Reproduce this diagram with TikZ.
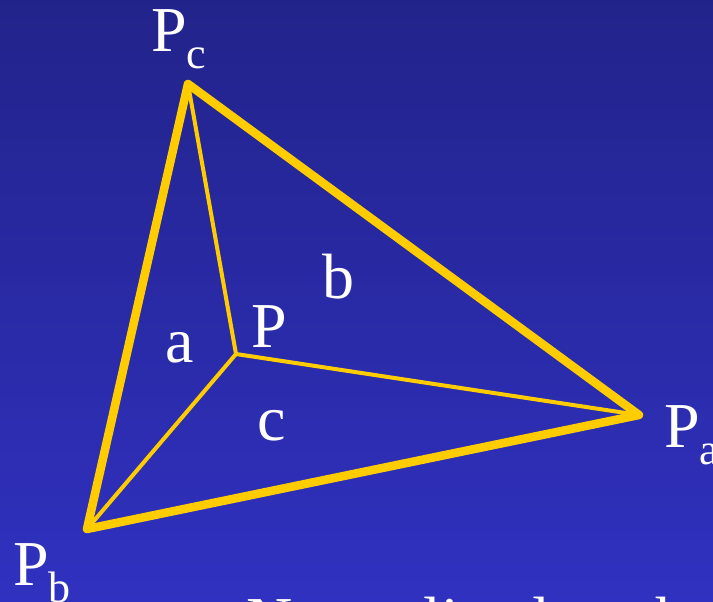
\documentclass[tikz,border=0pt]{standalone}
\usepackage{fontspec}
\setmainfont{Liberation Serif}
\definecolor{bgtop}{RGB}{34,35,138}
\definecolor{bgbot}{RGB}{48,49,192}
\definecolor{edgeyellow}{RGB}{255,204,0}
\tikzset{
  outeredge/.style={draw=edgeyellow, line width=6.4pt, line join=round, line cap=round},
  inneredge/.style={draw=edgeyellow, line width=3pt, line cap=round},
  lbl/.style={text=white, inner sep=0pt, anchor=base west, font=\fontsize{48}{56}\selectfont},
}
\newcommand{\subtxt}[1]{\raisebox{-12.75pt}{\fontsize{33}{38}\selectfont #1}}
\begin{document}
\begin{tikzpicture}[x=0.75pt, y=-0.75pt]
  \useasboundingbox (0,0) rectangle (713,602);
  \clip (0,0) rectangle (713,602);
  \shade[top color=bgtop, bottom color=bgbot] (0,0) rectangle (713,602);
  % vertices
  \coordinate (Pc) at (188,84);
  \coordinate (Pa) at (639,415);
  \coordinate (Pb) at (87,529);
  \coordinate (P) at (236,354);
  % edges
  \draw[inneredge] (P) -- (Pc);
  \draw[inneredge] (P) -- (Pa);
  \draw[inneredge] (P) -- (Pb);
  \draw[outeredge] (Pc) -- (Pa) -- (Pb) -- cycle;
  % labels
  \node[lbl] (lPc) at (151,52) {P\subtxt{c}};
  \node[lbl] (lPa) at (664,447) {P\subtxt{a}};
  \node[lbl] (lPb) at (13,585) {P\subtxt{b}};
  \node[lbl] (lP) at (251,347) {P};
  \node[lbl] (la) at (165,362) {a};
  \node[lbl] (lb) at (322,298) {b};
  \node[lbl] (lc) at (257,440) {c};
  \node[lbl] (title) at (246,641) {Normalized so that a+b+c = 1};
\end{tikzpicture}
\end{document}
